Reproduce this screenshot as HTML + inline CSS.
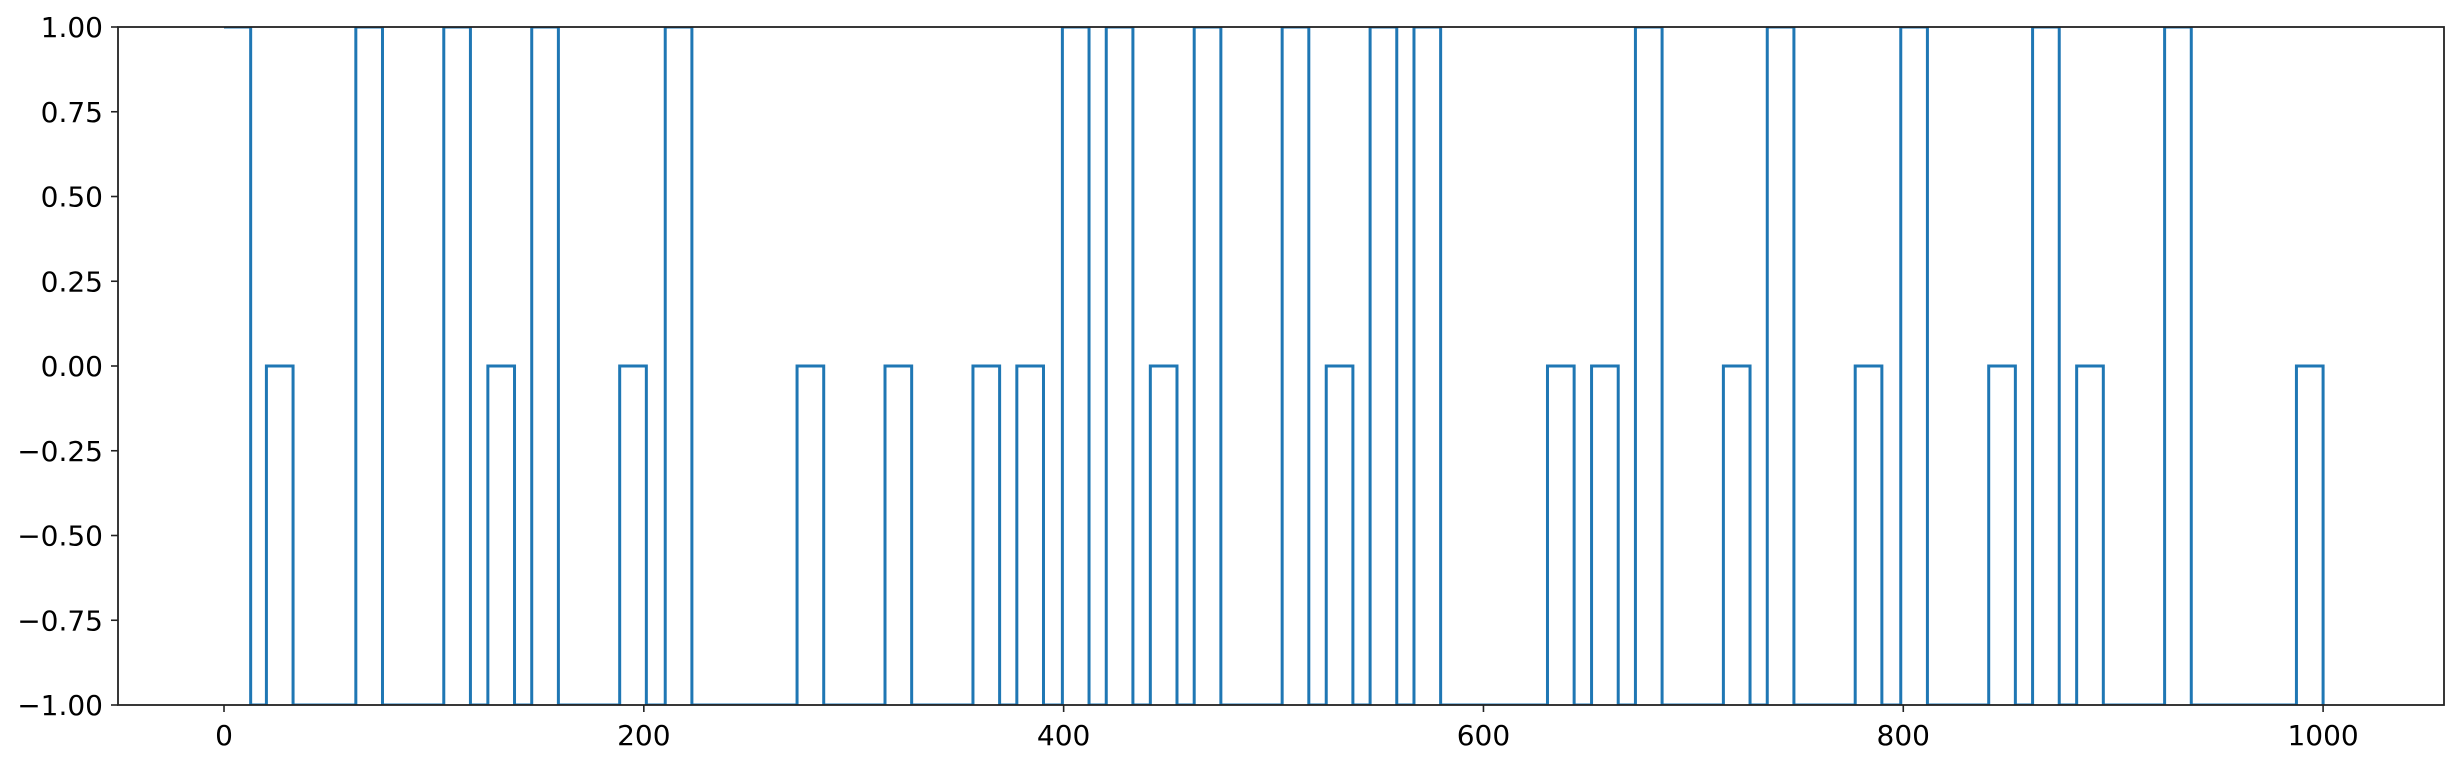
<!DOCTYPE html>
<html><head><meta charset="utf-8">
<style>
html,body{margin:0;padding:0;background:#fff;}
svg{display:block;}
text{font-family:"DejaVu Sans","Liberation Sans",sans-serif;font-size:28px;fill:#000;}
</style></head>
<body>
<svg id="chart" width="2458" height="763" viewBox="0 0 2458 763" xmlns="http://www.w3.org/2000/svg">
<defs><clipPath id="plotclip"><rect x="118" y="27" width="2326" height="678"/></clipPath></defs>
<g id="plot" clip-path="url(#plotclip)"></g>
</svg>
<script>
// data: pulses above the baseline value of -1
const pulseStart = [0, 20.2, 62.8, 104.7, 125.7, 146.6, 188.5, 210.2, 273.0, 314.9, 356.8, 377.7, 399.4, 420.3, 441.3, 462.2, 504.1, 525.1, 546.0, 566.9, 630.5, 651.5, 672.4, 714.3, 735.2, 777.1, 798.8, 840.7, 861.6, 882.6, 924.5, 987.3];
const pulseEnd   = [12.7, 32.9, 75.5, 117.4, 138.4, 159.3, 201.2, 222.9, 285.7, 327.6, 369.5, 390.4, 412.1, 433.0, 454.0, 474.9, 516.8, 537.8, 558.7, 579.6, 643.2, 664.2, 685.1, 727.0, 747.9, 789.8, 811.5, 853.4, 874.3, 895.3, 937.2, 1000];
const pulseValue = [1, 0, 1, 1, 0, 1, 0, 1, 0, 0, 0, 0, 1, 1, 0, 1, 1, 0, 1, 1, 0, 0, 1, 0, 1, 0, 1, 0, 1, 0, 1, 0];
const baseValue = -1;
const xTicks = [0, 200, 400, 600, 800, 1000];
const yTicks = [1.00, 0.75, 0.50, 0.25, 0.00, -0.25, -0.50, -0.75, -1.00];
const xMin = -50.5, xMax = 1057.6, yMin = -1, yMax = 1;

const L = 118, R = 2444, T = 27, B = 705;
const sx = v => L + (v - xMin) / (xMax - xMin) * (R - L);
const sy = v => B - (v - yMin) / (yMax - yMin) * (B - T);
const NS = "http://www.w3.org/2000/svg";
const svg = document.getElementById('chart');
const plot = document.getElementById('plot');
function mk(tag, attrs, parent) { const e = document.createElementNS(NS, tag); for (const k in attrs) e.setAttribute(k, attrs[k]); (parent || svg).appendChild(e); return e; }

// step line
let d = '';
for (let i = 0; i < pulseStart.length; i++) {
  const x0 = sx(pulseStart[i]), x1 = sx(pulseEnd[i]), yv = sy(pulseValue[i]), yb = sy(baseValue);
  if (i === 0) d += `M${x0},${yv}`; else d += `L${x0},${yb}L${x0},${yv}`;
  d += `L${x1},${yv}L${x1},${yb}`;
}
const line = mk('path', {d: d, fill: 'none', stroke: '#1f77b4', 'stroke-width': 3, 'stroke-linejoin': 'miter'}, plot);



// spines
const frame = mk('rect', {x: L, y: T, width: R - L, height: B - T, fill: 'none', stroke: '#222', 'stroke-width': 1.8});



// x ticks
xTicks.forEach(v => {
  const x = sx(v);
  const t = mk('line', {x1: x, x2: x, y1: B, y2: B + 7, stroke: '#222', 'stroke-width': 1.6});
  
  
  const lb = mk('text', {x: x, y: B + 40, 'text-anchor': 'middle'});
  lb.textContent = String(v);
  
  
});
// y ticks
yTicks.forEach(v => {
  const y = sy(v);
  const t = mk('line', {x1: L - 7, x2: L, y1: y, y2: y, stroke: '#222', 'stroke-width': 1.6});
  
  
  const lb = mk('text', {x: L - 15, y: y + 10, 'text-anchor': 'end'});
  lb.textContent = (v < 0 ? '\u2212' : '') + Math.abs(v).toFixed(2);
  
  
});
</script>
</body></html>
